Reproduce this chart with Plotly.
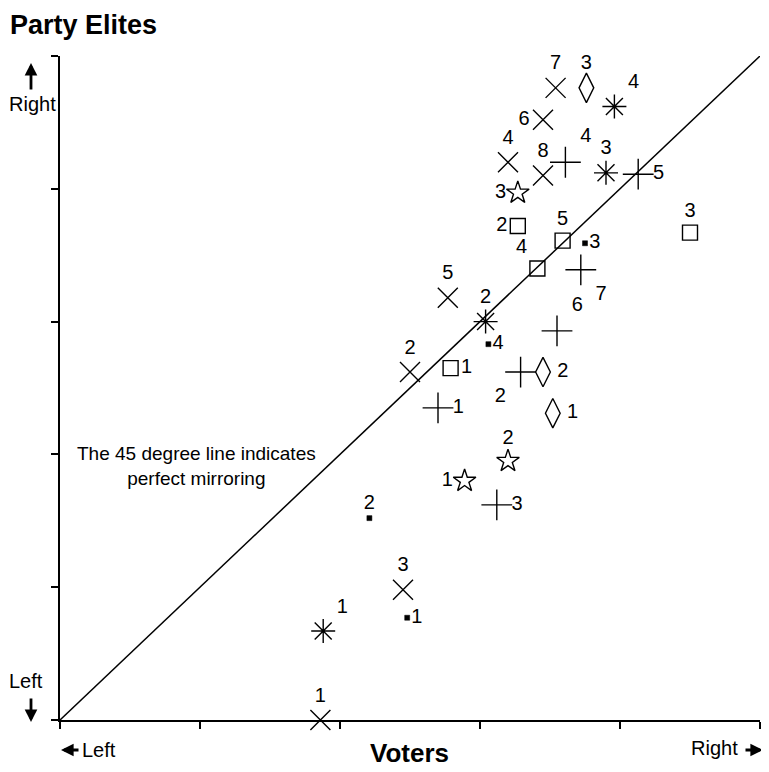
import plotly.graph_objects as go

# ---- data (voters position, party-elite position, label) ----
x_cross_x = [3.54, 3.45, 3.20, 3.45, 2.77, 2.50, 2.45, 1.86]
x_cross_y = [4.76, 4.52, 4.20, 4.10, 3.18, 2.62, 0.98, 0.00]
x_cross_lbl = ["7", "6", "4", "8", "5", "2", "3", "1"]

diamond_x = [3.76, 3.45, 3.52]
diamond_y = [4.76, 2.62, 2.31]
diamond_lbl = ["3", "2", "1"]

aster_x = [3.96, 3.90, 3.04, 1.88]
aster_y = [4.62, 4.12, 3.00, 0.67]
aster_lbl = ["4", "3", "2", "1"]

plus_x = [3.61, 4.13, 3.72, 3.55, 3.29, 2.70, 3.12]
plus_y = [4.20, 4.11, 3.39, 2.93, 2.62, 2.35, 1.62]
plus_lbl = ["4", "5", "7", "6", "2", "1", "3"]

square_x = [3.27, 4.50, 3.59, 3.41, 2.79]
square_y = [3.72, 3.67, 3.61, 3.40, 2.65]
square_lbl = ["2", "3", "5", "4", "1"]

star_x = [3.27, 3.20, 2.89]
star_y = [3.97, 1.95, 1.80]
star_lbl = ["3", "2", "1"]

dot_x = [3.75, 3.06, 2.21, 2.48]
dot_y = [3.59, 2.83, 1.52, 0.77]
dot_lbl = ["3", "4", "2", "1"]

diag = [0, 5]
ticks = [0, 1, 2, 3, 4, 5]

# ---- label placement (style) ----
x_cross_pos = ["top center", "middle left", "top center", "top center", "top center",
               "top center", "top center", "top center"]
diamond_pos = ["top center", "middle right", "middle right"]
aster_pos = ["top right", "top center", "top center", "top right"]
plus_pos = ["top right", "middle right", "bottom right", "top right", "bottom left",
            "middle right", "middle right"]
square_pos = ["middle left", "top center", "top center", "top left", "middle right"]
star_pos = ["middle left", "top center", "middle left"]
dot_pos = ["middle right", "middle right", "top center", "middle right"]

FONT = "Liberation Sans, Arial, Helvetica, sans-serif"
lbl_font = dict(family=FONT, size=20, color="black")

fig = go.Figure()

fig.add_trace(go.Scatter(x=diag, y=diag, mode="lines",
                         line=dict(color="black", width=1.5),
                         hoverinfo="skip", showlegend=False))


def add_group(xs, ys, lbls, pos, symbol, size, width=1.4, color="black"):
    fig.add_trace(go.Scatter(
        x=xs, y=ys, text=lbls, mode="markers+text", textposition=pos,
        textfont=lbl_font, cliponaxis=False, showlegend=False,
        marker=dict(symbol=symbol, size=size, color=color,
                    line=dict(color="black", width=width))))


add_group(x_cross_x, x_cross_y, x_cross_lbl, x_cross_pos, "x-thin-open", 20)
add_group(diamond_x, diamond_y, diamond_lbl, diamond_pos, "diamond-tall-open", 21)
add_group(aster_x, aster_y, aster_lbl, aster_pos, "asterisk-open", 20)
add_group(plus_x, plus_y, plus_lbl, plus_pos, "cross-thin-open", 22)
add_group(square_x, square_y, square_lbl, square_pos, "square-open", 15)
add_group(star_x, star_y, star_lbl, star_pos, "star-open", 17)
add_group(dot_x, dot_y, dot_lbl, dot_pos, "square", 5, width=0.5)

axis_common = dict(range=[0, 5], showgrid=False, zeroline=False, showline=True,
                   linecolor="black", linewidth=1.8, ticks="outside",
                   tickvals=ticks, ticklen=7, tickwidth=1.5, tickcolor="black",
                   showticklabels=False, fixedrange=True)

fig.update_xaxes(**axis_common)
fig.update_yaxes(**axis_common)

# page has an 8px body margin; figure sized so the plot area sits at
# page pixels x 60..760, y 56..720
OFF = 8
L, R, T, B = 52, 9, 48, 52
W, H = 761, 764
PW, PH = W - L - R, H - T - B


def xp(px):
    return (px - OFF - L) / PW


def yp(py):
    return (H - B - (py - OFF)) / PH


def ann(text, px, py, size, xanchor="center", bold=False):
    if bold:
        text = "<b>" + text + "</b>"
    return dict(text=text, x=xp(px), y=yp(py), xref="paper", yref="paper",
                xanchor=xanchor, yanchor="middle", showarrow=False,
                font=dict(family=FONT, size=size, color="black"))


def arrow(x0, y0, x1, y1):
    # arrow from page pixel (x0, y0) to head at (x1, y1)
    return dict(text="", x=xp(x1), y=yp(y1), xref="paper", yref="paper",
                ax=x0 - x1, ay=y0 - y1, axref="pixel", ayref="pixel",
                showarrow=True, arrowhead=2, arrowsize=0.9, arrowwidth=2.8,
                arrowcolor="black")


annotations = [
    ann("Party Elites", 8, 25, 27, "left", bold=True),
    arrow(31, 91, 31, 63),
    ann("Right", 7, 104, 20, "left"),
    ann("Left", 7, 681, 20, "left"),
    arrow(31, 697, 31, 722),
    arrow(80, 750, 61, 750),
    ann("Left", 80, 750, 20, "left"),
    ann("Voters", 409, 753, 26, bold=True),
    ann("Right", 740, 748, 20, "right"),
    arrow(744, 750, 763, 750),
    dict(text="The 45 degree line indicates<br>perfect mirroring",
         x=xp(196), y=yp(466), xref="paper", yref="paper",
         xanchor="center", yanchor="middle", showarrow=False,
         font=dict(family=FONT, size=19, color="black")),
]

fig.update_layout(width=W, height=H, margin=dict(l=L, r=R, t=T, b=B),
                  paper_bgcolor="white", plot_bgcolor="white",
                  annotations=annotations, showlegend=False)

fig.write_html("out.html")
